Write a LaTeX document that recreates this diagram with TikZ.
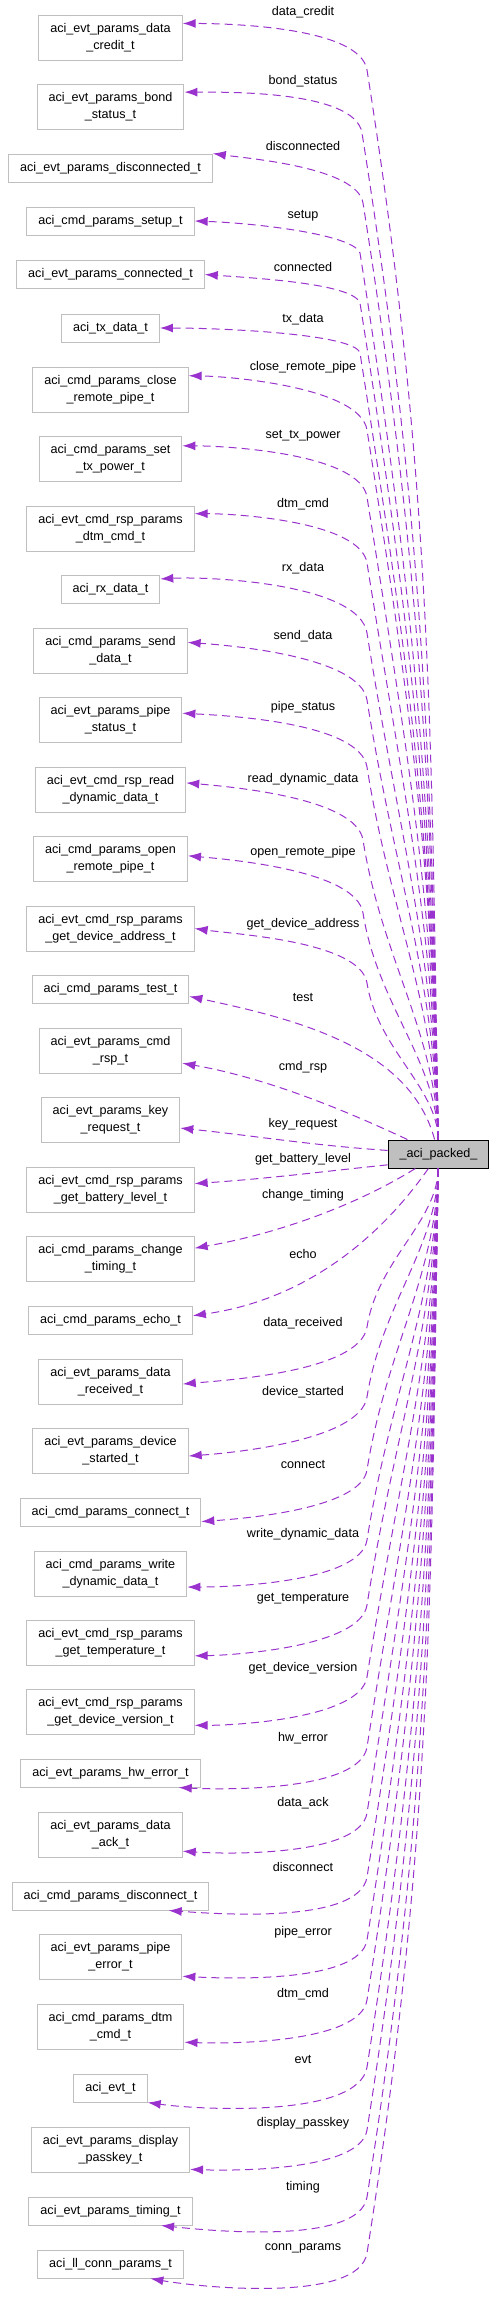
\documentclass[tikz,border=0pt]{standalone}
\usepackage{fontspec}
\setmainfont{Liberation Sans}
\usetikzlibrary{arrows.meta}
\definecolor{edgepurple}{HTML}{9A32CD}
\definecolor{boxgray}{HTML}{BFBFBF}

\begin{document}
\begin{tikzpicture}[x=1pt, y=-1pt,
    every node/.style={font=\fontsize{12.6}{16.7}\selectfont},
    member/.style={draw=boxgray, line width=1pt, fill=white, align=center,
      inner xsep=11.5pt, inner ysep=0pt, minimum height=28pt},
    member2/.style={member, minimum height=45pt},
    packed/.style={draw=black, fill=boxgray, line width=1pt,
      inner xsep=11.5pt, inner ysep=0pt, minimum height=28pt},
    edge/.style={draw=edgepurple, line width=1pt, dash pattern=on 8pt off 5pt,
      -{Latex[length=13pt,width=9pt]}},
    lbl/.style={inner sep=0pt}]
  \useasboundingbox (0,0) rectangle (496,2300);

  % The struct itself
  \node[packed] (pk) at (438.5,1154) {\_aci\_packed\_};

  % Member types (one column)
  \node[member2] (b1) at (110.5,37.5) {aci\_evt\_params\_data\\\_credit\_t};
  \node[member2] (b2) at (110.5,106.5) {aci\_evt\_params\_bond\\\_status\_t};
  \node[member] (b3) at (110.5,168) {aci\_evt\_params\_disconnected\_t};
  \node[member] (b4) at (110.5,221) {aci\_cmd\_params\_setup\_t};
  \node[member] (b5) at (110.5,274.5) {aci\_evt\_params\_connected\_t};
  \node[member] (b6) at (110.5,328) {aci\_tx\_data\_t};
  \node[member2] (b7) at (110.5,389.5) {aci\_cmd\_params\_close\\\_remote\_pipe\_t};
  \node[member2] (b8) at (110.5,458.5) {aci\_cmd\_params\_set\\\_tx\_power\_t};
  \node[member2] (b9) at (110.5,528.5) {aci\_evt\_cmd\_rsp\_params\\\_dtm\_cmd\_t};
  \node[member] (b10) at (110.5,589.5) {aci\_rx\_data\_t};
  \node[member2] (b11) at (110.5,650.5) {aci\_cmd\_params\_send\\\_data\_t};
  \node[member2] (b12) at (110.5,719.5) {aci\_evt\_params\_pipe\\\_status\_t};
  \node[member2] (b13) at (110.5,789.5) {aci\_evt\_cmd\_rsp\_read\\\_dynamic\_data\_t};
  \node[member2] (b14) at (110.5,858.5) {aci\_cmd\_params\_open\\\_remote\_pipe\_t};
  \node[member2] (b15) at (110.5,928.5) {aci\_evt\_cmd\_rsp\_params\\\_get\_device\_address\_t};
  \node[member] (b16) at (110.5,989.5) {aci\_cmd\_params\_test\_t};
  \node[member2] (b17) at (110.5,1050.5) {aci\_evt\_params\_cmd\\\_rsp\_t};
  \node[member2] (b18) at (110.5,1119.5) {aci\_evt\_params\_key\\\_request\_t};
  \node[member2] (b19) at (110.5,1189.5) {aci\_evt\_cmd\_rsp\_params\\\_get\_battery\_level\_t};
  \node[member2] (b20) at (110.5,1258.5) {aci\_cmd\_params\_change\\\_timing\_t};
  \node[member] (b21) at (110.5,1320) {aci\_cmd\_params\_echo\_t};
  \node[member2] (b22) at (110.5,1381.5) {aci\_evt\_params\_data\\\_received\_t};
  \node[member2] (b23) at (110.5,1450.5) {aci\_evt\_params\_device\\\_started\_t};
  \node[member] (b24) at (110.5,1512) {aci\_cmd\_params\_connect\_t};
  \node[member2] (b25) at (110.5,1573.5) {aci\_cmd\_params\_write\\\_dynamic\_data\_t};
  \node[member2] (b26) at (110.5,1642.5) {aci\_evt\_cmd\_rsp\_params\\\_get\_temperature\_t};
  \node[member2] (b27) at (110.5,1712) {aci\_evt\_cmd\_rsp\_params\\\_get\_device\_version\_t};
  \node[member] (b28) at (110.5,1773) {aci\_evt\_params\_hw\_error\_t};
  \node[member2] (b29) at (110.5,1834.5) {aci\_evt\_params\_data\\\_ack\_t};
  \node[member] (b30) at (110.5,1896) {aci\_cmd\_params\_disconnect\_t};
  \node[member2] (b31) at (110.5,1957) {aci\_evt\_params\_pipe\\\_error\_t};
  \node[member2] (b32) at (110.5,2026.5) {aci\_cmd\_params\_dtm\\\_cmd\_t};
  \node[member] (b33) at (110.5,2088) {aci\_evt\_t};
  \node[member2] (b34) at (110.5,2149.5) {aci\_evt\_params\_display\\\_passkey\_t};
  \node[member] (b35) at (110.5,2211) {aci\_evt\_params\_timing\_t};
  \node[member] (b36) at (110.5,2264) {aci\_ll\_conn\_params\_t};

  % Members above the struct
  \draw[edge] (pk) .. controls +(91:418pt) and +(-81:418pt) .. (367,70) .. controls +(99:44pt) and +(0:44pt) .. (b1.11);
  \draw[edge] (pk) .. controls +(91:393pt) and +(-81:393pt) .. (362,133) .. controls +(99:43pt) and +(0:43pt) .. (b2.11);
  \draw[edge] (pk) .. controls +(91:365pt) and +(-81:365pt) .. (363,203) .. controls +(99:36pt) and +(-8:36pt) .. (b3.north east);
  \draw[edge] (pk) .. controls +(91:346pt) and +(-81:346pt) .. (360,253) .. controls +(110:20pt) and +(-2:60pt) .. (b4.east);
  \draw[edge] (pk) .. controls +(91:326pt) and +(-81:326pt) .. (360,303) .. controls +(110:20pt) and +(-4:60pt) .. (b5.east);
  \draw[edge] (pk) .. controls +(91:307pt) and +(-81:307pt) .. (360,353) .. controls +(105:20pt) and +(0:60pt) .. (b6.east);
  \draw[edge] (pk) .. controls +(91:277pt) and +(-81:277pt) .. (367,430) .. controls +(99:43pt) and +(-1:43pt) .. (b7.10);
  \draw[edge] (pk) .. controls +(91:251pt) and +(-81:251pt) .. (367,497) .. controls +(99:44pt) and +(0:44pt) .. (b8.10);
  \draw[edge] (pk) .. controls +(91:225pt) and +(-81:225pt) .. (367,563) .. controls +(99:42pt) and +(0:42pt) .. (b9.10);
  \draw[edge] (pk) .. controls +(91:198pt) and +(-81:198pt) .. (367,633) .. controls +(99:50pt) and +(3:50pt) .. (b10.12);
  \draw[edge] (pk) .. controls +(91:172pt) and +(-81:172pt) .. (367,700) .. controls +(99:44pt) and +(-4:44pt) .. (b11.6);
  \draw[edge] (pk) .. controls +(91:146pt) and +(-81:146pt) .. (367,767) .. controls +(99:45pt) and +(-3:45pt) .. (b12.5);
  \draw[edge] (pk) .. controls +(91:120pt) and +(-81:120pt) .. (363,840) .. controls +(99:43pt) and +(-5:43pt) .. (b13.5);
  \draw[edge] (pk) .. controls +(91:93pt) and +(-81:93pt) .. (363,913) .. controls +(99:43pt) and +(-5:43pt) .. (b14.2);
  \draw[edge] (pk) .. controls +(91:67pt) and +(-81:67pt) .. (367,983) .. controls +(99:42pt) and +(-8:42pt) .. (b15.east);

  % Members beside the struct
  \draw[edge] (pk) .. controls +(105:110pt) and +(-12:110pt) .. (b16.-5);
  \draw[edge] (pk) .. controls +(155:92pt) and +(-10:92pt) .. (b17.-10);
  \draw[edge] (pk.176) .. controls +(176:80pt) and +(-6:80pt) .. (b18.-7);
  \draw[edge] (pk.192) .. controls +(186:75pt) and +(4:75pt) .. (b19.4);
  \draw[edge] (pk) .. controls +(212:91pt) and +(10:91pt) .. (b20.7);
  \draw[edge] (pk) .. controls +(-125:109pt) and +(8:109pt) .. (b21.3);

  % Members below the struct
  \draw[edge] (pk) .. controls +(-91:68pt) and +(81:68pt) .. (367,1327) .. controls +(-99:45pt) and +(5:45pt) .. (b22.-2);
  \draw[edge] (pk) .. controls +(-91:94pt) and +(81:94pt) .. (367,1397) .. controls +(-99:44pt) and +(4:44pt) .. (b23.-4);
  \draw[edge] (pk) .. controls +(-91:121pt) and +(81:121pt) .. (367,1470) .. controls +(-99:40pt) and +(4:40pt) .. (b24.-6);
  \draw[edge] (pk) .. controls +(-91:148pt) and +(81:148pt) .. (367,1540) .. controls +(-99:43pt) and +(0:43pt) .. (b25.-10);
  \draw[edge] (pk) .. controls +(-91:172pt) and +(81:172pt) .. (367,1605) .. controls +(-99:42pt) and +(1:42pt) .. (b26.-9);
  \draw[edge] (pk) .. controls +(-91:200pt) and +(81:200pt) .. (367,1677) .. controls +(-99:42pt) and +(0:42pt) .. (b27.-9);
  \draw[edge] (pk) .. controls +(-91:227pt) and +(81:227pt) .. (367,1747) .. controls +(-99:45pt) and +(-3:45pt) .. (b28.-12);
  \draw[edge] (pk) .. controls +(-91:253pt) and +(81:253pt) .. (367,1813) .. controls +(-99:44pt) and +(-4:44pt) .. (b29.-13);
  \draw[edge] (pk) .. controls +(-91:278pt) and +(81:278pt) .. (367,1877) .. controls +(-99:48pt) and +(-4:48pt) .. (b30.-14);
  \draw[edge] (pk) .. controls +(-91:302pt) and +(81:302pt) .. (367,1940) .. controls +(-99:44pt) and +(-3:44pt) .. (b31.-15);
  \draw[edge] (pk) .. controls +(-91:326pt) and +(81:326pt) .. (367,2000) .. controls +(-99:44pt) and +(-2:44pt) .. (b32.-12);
  \draw[edge] (pk) .. controls +(-91:352pt) and +(81:352pt) .. (367,2067) .. controls +(-99:52pt) and +(-8:52pt) .. (b33.south east);
  \draw[edge] (pk) .. controls +(-91:376pt) and +(81:376pt) .. (367,2130) .. controls +(-99:42pt) and +(-2:42pt) .. (b34.-14);
  \draw[edge] (pk) .. controls +(-91:402pt) and +(81:402pt) .. (367,2197) .. controls +(-99:49pt) and +(-6:49pt) .. (b35.-16);
  \draw[edge] (pk) .. controls +(-91:424pt) and +(81:424pt) .. (367,2253) .. controls +(-99:51pt) and +(-10:51pt) .. (b36.-20);

  % Member names
  \node[lbl] (l1) at (303,12) {data\_credit};
  \node[lbl] (l2) at (303,81) {bond\_status};
  \node[lbl] (l3) at (303,146) {disconnected};
  \node[lbl] (l4) at (303,216) {setup};
  \node[lbl] (l5) at (303,267) {connected};
  \node[lbl] (l6) at (303,319) {tx\_data};
  \node[lbl] (l7) at (303,367) {close\_remote\_pipe};
  \node[lbl] (l8) at (303,436) {set\_tx\_power};
  \node[lbl] (l9) at (303,504) {dtm\_cmd};
  \node[lbl] (l10) at (303,568) {rx\_data};
  \node[lbl] (l11) at (303,636) {send\_data};
  \node[lbl] (l12) at (303,707) {pipe\_status};
  \node[lbl] (l13) at (303,779) {read\_dynamic\_data};
  \node[lbl] (l14) at (303,852) {open\_remote\_pipe};
  \node[lbl] (l15) at (303,924) {get\_device\_address};
  \node[lbl] (l16) at (303,997) {test};
  \node[lbl] (l17) at (303,1067) {cmd\_rsp};
  \node[lbl] (l18) at (303,1124) {key\_request};
  \node[lbl] (l19) at (303,1159) {get\_battery\_level};
  \node[lbl] (l20) at (303,1195) {change\_timing};
  \node[lbl] (l21) at (303,1254) {echo};
  \node[lbl] (l22) at (303,1323) {data\_received};
  \node[lbl] (l23) at (303,1392) {device\_started};
  \node[lbl] (l24) at (303,1464) {connect};
  \node[lbl] (l25) at (303,1534) {write\_dynamic\_data};
  \node[lbl] (l26) at (303,1599) {get\_temperature};
  \node[lbl] (l27) at (303,1668) {get\_device\_version};
  \node[lbl] (l28) at (303,1738) {hw\_error};
  \node[lbl] (l29) at (303,1803) {data\_ack};
  \node[lbl] (l30) at (303,1867) {disconnect};
  \node[lbl] (l31) at (303,1932) {pipe\_error};
  \node[lbl] (l32) at (303,1994) {dtm\_cmd};
  \node[lbl] (l33) at (303,2059) {evt};
  \node[lbl] (l34) at (303,2123) {display\_passkey};
  \node[lbl] (l35) at (303,2187) {timing};
  \node[lbl] (l36) at (303,2248) {conn\_params};
\end{tikzpicture}
\end{document}
